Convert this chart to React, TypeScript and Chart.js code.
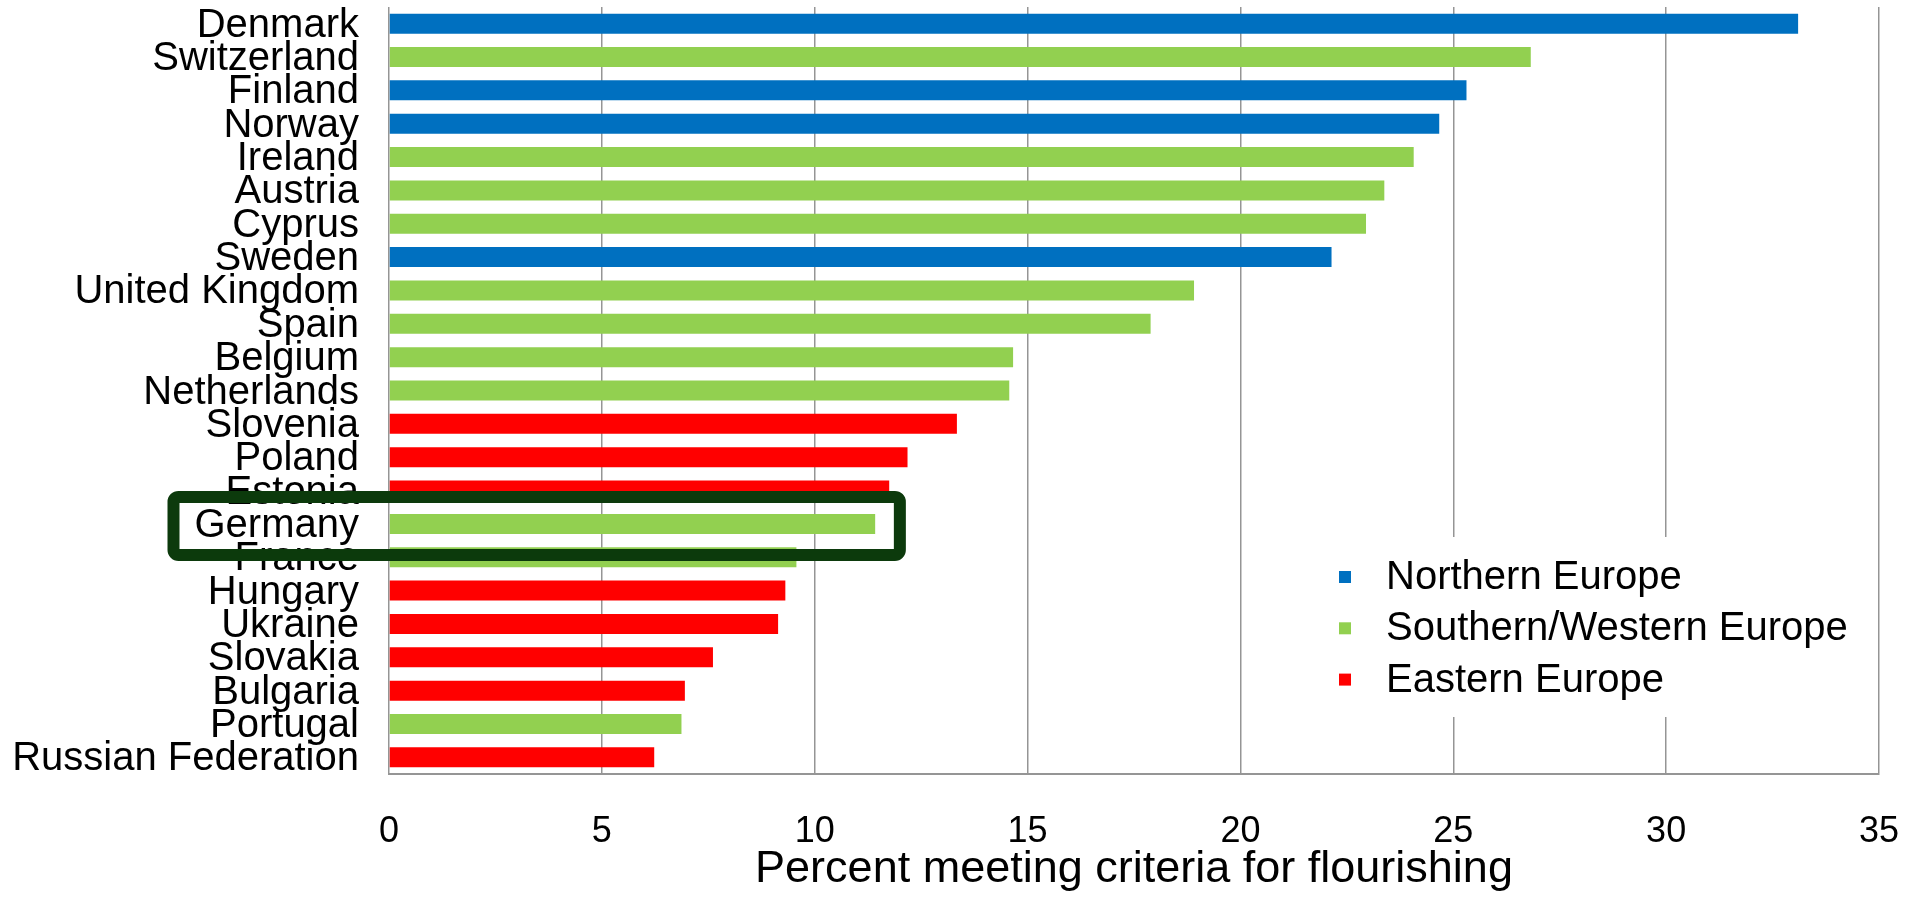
import React, { useEffect, useRef } from "react";
import { Chart, registerables } from "chart.js";

Chart.register(...registerables);

// ---- Data ----
const countries = [
  "Denmark", "Switzerland", "Finland", "Norway", "Ireland", "Austria", "Cyprus", "Sweden",
  "United Kingdom", "Spain", "Belgium", "Netherlands", "Slovenia", "Poland", "Estonia",
  "Germany", "France", "Hungary", "Ukraine", "Slovakia", "Bulgaria", "Portugal", "Russian Federation",
];
const percentFlourishing = [
  33.1, 26.82, 25.31, 24.67, 24.07, 23.38, 22.95, 22.14,
  18.91, 17.89, 14.66, 14.57, 13.34, 12.18, 11.75,
  11.42, 9.57, 9.31, 9.14, 7.61, 6.95, 6.87, 6.23,
];
const regionOf = [
  "N", "S", "N", "N", "S", "S", "S", "N",
  "S", "S", "S", "S", "E", "E", "E",
  "S", "S", "E", "E", "E", "E", "S", "E",
];
const regionKeys = ["N", "S", "E"];
const regionLabels = ["Northern Europe", "Southern/Western Europe", "Eastern Europe"];
const regionColors = ["#0070C0", "#92D050", "#FF0000"];
const xTicks = [0, 5, 10, 15, 20, 25, 30, 35];
const axisTitle = "Percent meeting criteria for flourishing";
const highlighted = "Germany";
const highlightUpTo = 12;

const FONT = "'Liberation Sans', Arial, Helvetica, sans-serif";
const GRID = "#959595";

const legendPlugin = {
  id: "insideLegend",
  afterDraw(chart: any) {
    const { ctx, chartArea } = chart;
    const top = chartArea.bottom - 237;
    const left = chartArea.right - 570;
    ctx.save();
    ctx.fillStyle = "#ffffff";
    ctx.fillRect(left, top, 562, 180);
    const rowStart = top + 40;
    const rowGap = 51.3;
    chart.data.datasets.forEach((ds: any, i: number) => {
      const cy = rowStart + i * rowGap;
      ctx.fillStyle = ds.backgroundColor;
      ctx.fillRect(left + 30, cy - 6, 12, 12);
      ctx.fillStyle = "#000";
      ctx.font = `40px ${FONT}`;
      ctx.textBaseline = "middle";
      ctx.textAlign = "left";
      ctx.fillText(ds.label, left + 77, cy + 1);
    });
    ctx.restore();
  },
};

const highlightPlugin = {
  id: "highlightBox",
  afterDraw(chart: any) {
    const { ctx, chartArea } = chart;
    const yS = chart.scales.y;
    const xS = chart.scales.x;
    const idx = countries.indexOf(highlighted);
    if (idx < 0) return;
    const band = yS.getPixelForValue(1) - yS.getPixelForValue(0);
    const cy = yS.getPixelForValue(idx) + 2;
    const h = band * 0.87;
    const x0 = chartArea.left - 215.5;
    const x1 = xS.getPixelForValue(highlightUpTo);
    const y0 = cy - h;
    const y1 = cy + h;
    const r = 5;
    ctx.save();
    ctx.strokeStyle = "#0c3a0c";
    ctx.lineWidth = 12;
    ctx.lineJoin = "round";
    ctx.beginPath();
    ctx.moveTo(x0 + r, y0);
    ctx.lineTo(x1 - r, y0);
    ctx.arcTo(x1, y0, x1, y0 + r, r);
    ctx.lineTo(x1, y1 - r);
    ctx.arcTo(x1, y1, x1 - r, y1, r);
    ctx.lineTo(x0 + r, y1);
    ctx.arcTo(x0, y1, x0, y1 - r, r);
    ctx.lineTo(x0, y0 + r);
    ctx.arcTo(x0, y0, x0 + r, y0, r);
    ctx.closePath();
    ctx.stroke();
    ctx.restore();
  },
};

export default function App() {
  const canvasRef = useRef<HTMLCanvasElement | null>(null);

  useEffect(() => {
    const canvas = canvasRef.current;
    if (!canvas) return;
    const datasets = regionKeys.map((key, r) => ({
      label: regionLabels[r],
      data: percentFlourishing.map((v, i) => (regionOf[i] === key ? v : null)),
      backgroundColor: regionColors[r],
      borderWidth: 0,
      grouped: false,
      barPercentage: 0.6,
      categoryPercentage: 1,
    }));

    const chart = new Chart(canvas, {
      type: "bar",
      data: { labels: countries, datasets: datasets as any },
      plugins: [legendPlugin, highlightPlugin],
      options: {
        indexAxis: "y",
        responsive: false,
        animation: false,
        devicePixelRatio: 1,
        layout: { padding: { top: 7, right: 28, bottom: 0, left: 0 } },
        plugins: {
          legend: { display: false },
          tooltip: { enabled: false },
          title: { display: false },
        },
        scales: {
          x: {
            type: "linear",
            min: 0,
            max: 35,
            afterBuildTicks: (s: any) => {
              s.ticks = xTicks.map((v) => ({ value: v }));
            },
            ticks: {
              padding: 36,
              color: "#000",
              font: { family: FONT, size: 36 },
            },
            grid: { color: GRID, lineWidth: 1.5, drawTicks: false },
            border: { display: true, color: GRID, width: 2 },
            title: {
              display: true,
              text: axisTitle,
              color: "#000",
              font: { family: FONT, size: 45 },
              padding: { top: 0, bottom: 0 },
            },
            afterFit: (s: any) => {
              s.height = 123;
              s.paddingLeft = 0;
              s.paddingRight = 0;
              s.paddingTop = 0;
              s.paddingBottom = 0;
            },
          },
          y: {
            type: "category",
            ticks: {
              autoSkip: false,
              padding: 30,
              labelOffset: 2,
              color: "#000",
              font: { family: FONT, size: 40 },
            },
            grid: { display: false, drawTicks: false },
            border: { display: false },
            afterFit: (s: any) => {
              s.width = 389;
              s.paddingLeft = 0;
              s.paddingRight = 0;
              s.paddingTop = 0;
              s.paddingBottom = 0;
            },
          },
        },
      } as any,
    });
    return () => chart.destroy();
  }, []);

  return (
    <div style={{ position: "fixed", left: 0, top: 0, width: 1907, height: 897, background: "#fff" }}>
      <canvas ref={canvasRef} width={1907} height={897} style={{ display: "block" }} />
    </div>
  );
}
